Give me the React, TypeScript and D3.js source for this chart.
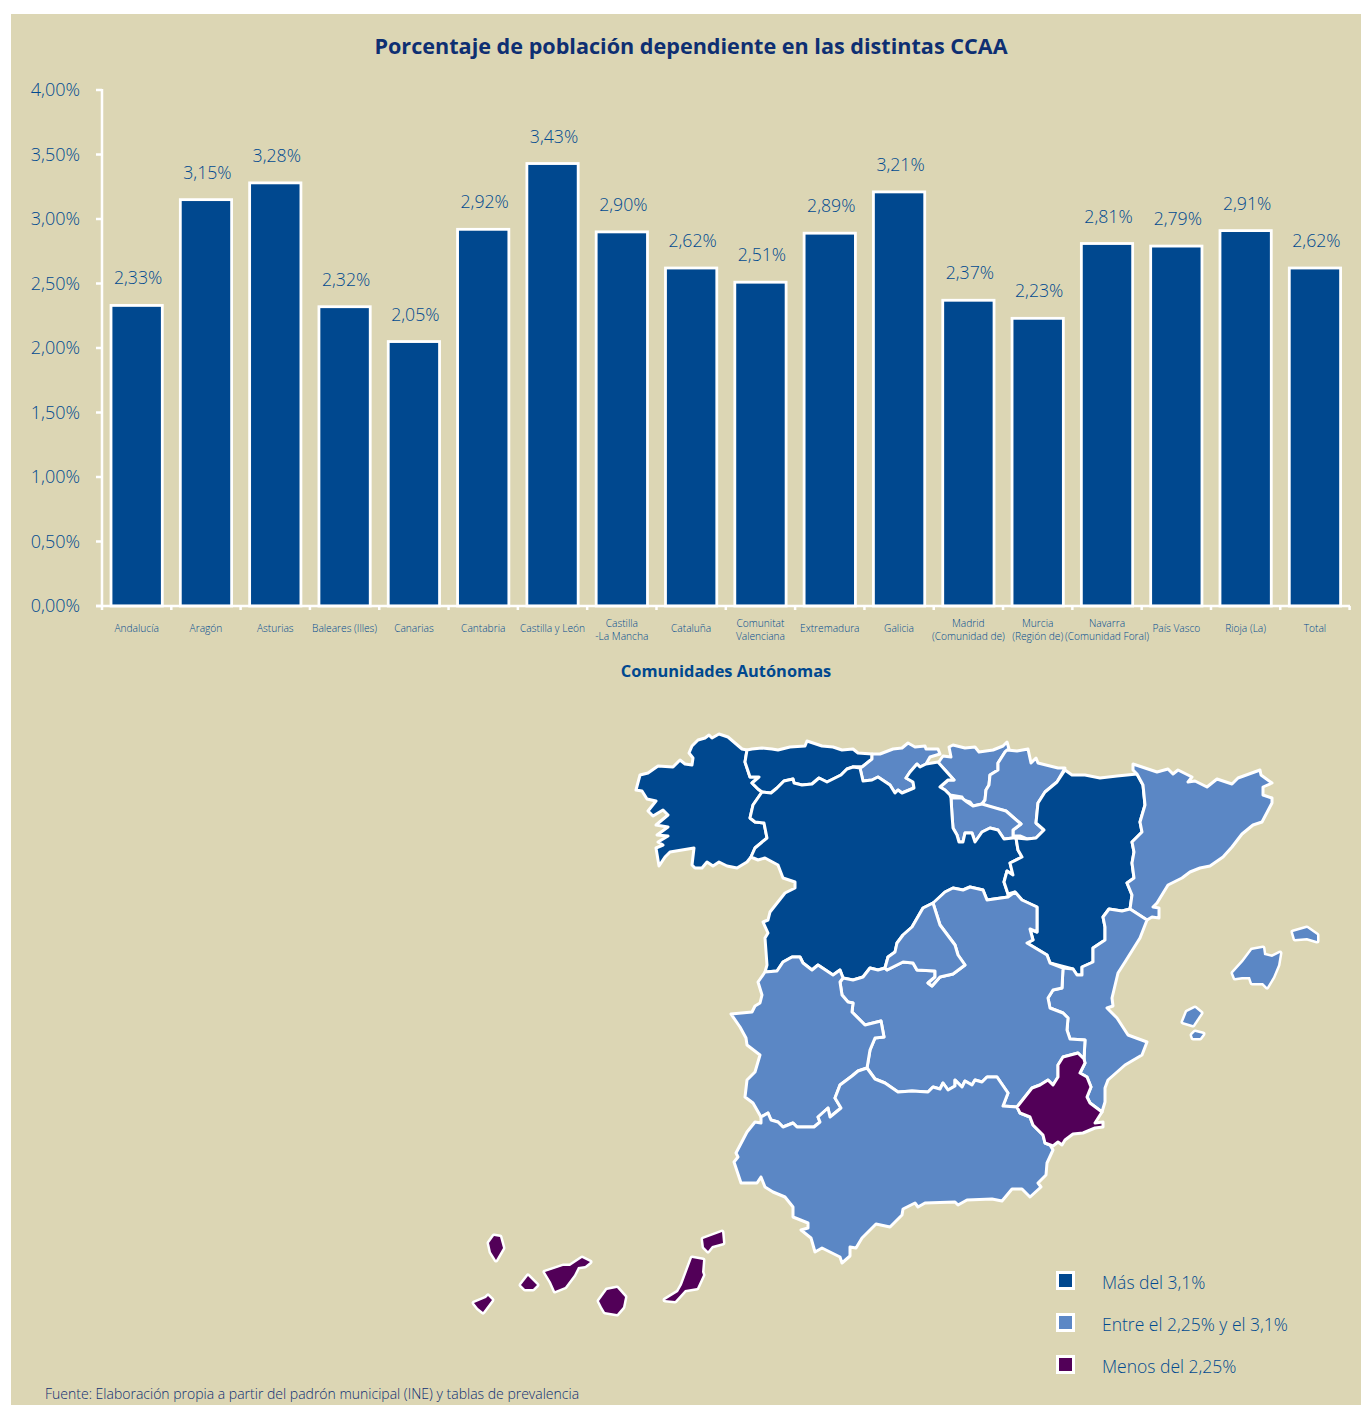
import React from "react";
import * as d3 from "d3";

const categories = ["Andalucía","Aragón","Asturias","Baleares (Illes)","Canarias","Cantabria","Castilla y León","Castilla\n-La Mancha","Cataluña","Comunitat\nValenciana","Extremadura","Galicia","Madrid\n(Comunidad de)","Murcia\n(Región de)","Navarra\n(Comunidad Foral)","País Vasco","Rioja (La)","Total"];
const values = [2.33,3.15,3.28,2.32,2.05,2.92,3.43,2.90,2.62,2.51,2.89,3.21,2.37,2.23,2.81,2.79,2.91,2.62];
const yTicks = [0,0.5,1,1.5,2,2.5,3,3.5,4];
const legendLabels = ["Más del 3,1%","Entre el 2,25% y el 3,1%","Menos del 2,25%"];
const thresholds = [2.25,3.1];
const palette = ["#520058","#5B87C5","#00488F"];
const islandCategories = [3,4];

type P = [number,number];
const galicia: P[] = [[636,790],[640,775],[648,773],[658,766],[673,767],[680,760],[685,764],[692,765],[693,758],[689,753],[692,746],[698,740],[705,738],[709,735],[712,738],[719,734],[728,737],[742,749],[747,750],[745,762],[750,777],[759,777],[752,783],[758,789],[762,792],[753,805],[750,818],[755,822],[764,823],[767,838],[755,848],[751,857],[747,862],[737,868],[727,866],[719,862],[713,866],[707,862],[702,868],[695,868],[692,865],[694,848],[670,852],[665,857],[659,866],[656,848],[663,845],[658,842],[668,836],[657,835],[668,827],[656,825],[668,815],[663,810],[653,816],[648,811],[656,801],[647,799],[642,791]];
const asturias: P[] = [[747,750],[752,749],[762,748],[772,749],[778,750],[790,747],[805,746],[807,741],[822,746],[833,747],[842,750],[853,749],[858,753],[872,754],[872,759],[862,767],[853,767],[847,769],[841,775],[827,782],[819,778],[812,784],[802,785],[794,783],[793,779],[784,781],[777,788],[771,793],[762,792],[758,789],[752,783],[759,777],[750,777],[745,762]];
const cantabria: P[] = [[872,754],[880,754],[893,749],[902,748],[908,743],[915,747],[925,746],[926,749],[938,749],[940,754],[930,757],[926,764],[920,767],[917,764],[910,772],[906,778],[913,782],[914,788],[902,793],[898,790],[895,793],[890,785],[878,777],[872,780],[863,781],[860,768],[853,767],[862,767],[872,759]];
const paisVasco: P[] = [[949,747],[953,745],[965,748],[975,747],[979,752],[993,750],[1003,746],[1007,742],[1009,749],[1005,752],[998,763],[998,770],[990,775],[989,785],[986,790],[985,800],[982,804],[973,806],[970,802],[963,800],[962,797],[950,795],[945,790],[940,787],[948,780],[954,780],[945,770],[938,763],[943,756],[951,757]];
const navarra: P[] = [[1007,750],[1017,751],[1028,749],[1031,763],[1036,758],[1038,763],[1058,768],[1065,768],[1057,782],[1045,792],[1038,803],[1036,823],[1044,830],[1036,838],[1027,839],[1020,836],[1013,836],[1013,830],[1021,824],[1006,811],[985,806],[982,804],[985,800],[986,790],[989,785],[990,775],[998,770],[998,763],[1005,752]];
const rioja: P[] = [[951,798],[962,798],[967,802],[973,806],[982,804],[1006,811],[1021,824],[1013,830],[1013,838],[1004,839],[998,830],[990,828],[982,832],[975,842],[972,833],[965,833],[963,842],[959,842],[957,835],[953,828],[952,815]];
const aragon: P[] = [[1065,770],[1072,775],[1085,775],[1100,778],[1117,776],[1137,774],[1143,785],[1145,805],[1140,822],[1142,832],[1132,842],[1134,852],[1132,863],[1134,878],[1127,883],[1132,895],[1130,909],[1122,911],[1109,909],[1103,917],[1105,927],[1105,940],[1093,948],[1093,962],[1082,967],[1082,975],[1077,975],[1073,969],[1050,963],[1047,955],[1027,943],[1033,940],[1030,929],[1037,932],[1037,907],[1022,900],[1015,892],[1008,894],[1004,882],[1007,871],[1013,875],[1010,863],[1022,857],[1018,850],[1016,838],[1027,839],[1036,838],[1044,830],[1036,823],[1038,803],[1045,792],[1057,782]];
const cataluna: P[] = [[1133,764],[1157,772],[1168,769],[1173,774],[1178,770],[1192,777],[1188,782],[1195,781],[1207,787],[1217,779],[1232,784],[1238,778],[1260,770],[1261,775],[1272,783],[1263,787],[1263,795],[1272,798],[1272,803],[1262,822],[1253,825],[1242,834],[1232,847],[1223,857],[1210,866],[1200,868],[1190,872],[1182,878],[1168,885],[1157,903],[1153,907],[1159,908],[1159,918],[1152,917],[1147,920],[1130,909],[1132,895],[1127,883],[1134,878],[1132,863],[1134,852],[1132,842],[1142,832],[1140,822],[1145,805],[1143,785],[1137,774],[1133,770]];
const valencia: P[] = [[1130,909],[1147,920],[1140,938],[1125,962],[1118,973],[1112,998],[1113,1006],[1107,1008],[1117,1018],[1128,1035],[1147,1042],[1142,1055],[1125,1065],[1108,1080],[1105,1088],[1105,1102],[1102,1112],[1090,1103],[1087,1097],[1091,1087],[1087,1077],[1080,1073],[1085,1063],[1084,1059],[1085,1040],[1070,1039],[1067,1030],[1068,1018],[1063,1013],[1050,1008],[1048,998],[1053,990],[1062,988],[1063,968],[1073,969],[1077,975],[1082,975],[1082,967],[1093,962],[1093,948],[1105,940],[1105,927],[1103,917],[1109,909],[1122,911]];
const castillaLeon: P[] = [[762,792],[771,793],[777,788],[784,781],[793,779],[794,783],[802,785],[812,784],[819,778],[827,782],[841,775],[847,769],[853,767],[860,768],[863,781],[872,780],[878,777],[890,785],[895,793],[898,790],[902,793],[914,788],[913,782],[906,778],[910,772],[917,764],[920,767],[926,764],[938,762],[945,770],[954,780],[948,780],[940,787],[945,790],[950,795],[951,798],[952,815],[953,828],[957,835],[959,842],[963,842],[965,833],[972,833],[975,842],[982,832],[990,828],[998,830],[1004,839],[1013,838],[1016,838],[1018,850],[1022,857],[1010,863],[1013,875],[1007,871],[1004,882],[1008,894],[1008,897],[987,900],[983,890],[970,887],[963,890],[953,888],[945,892],[935,902],[923,908],[912,927],[903,935],[897,943],[895,952],[888,957],[885,968],[878,970],[870,968],[863,977],[853,980],[843,978],[840,970],[833,975],[818,965],[812,970],[803,963],[800,957],[792,957],[783,962],[777,971],[765,972],[767,965],[765,938],[768,933],[763,922],[768,920],[770,912],[785,893],[795,888],[795,882],[783,878],[778,865],[765,858],[758,860],[751,857],[755,848],[767,838],[764,823],[755,822],[750,818],[753,805]];
const madrid: P[] = [[923,908],[933,903],[940,925],[955,945],[958,955],[965,965],[953,974],[940,977],[932,986],[928,983],[935,977],[935,971],[917,970],[913,963],[903,962],[887,970],[885,968],[888,957],[895,952],[897,943],[903,935],[912,927]];
const castillaMancha: P[] = [[933,903],[945,892],[953,888],[963,890],[970,887],[983,890],[987,900],[1008,897],[1015,892],[1022,900],[1037,907],[1037,932],[1030,929],[1033,940],[1027,943],[1047,955],[1050,963],[1063,968],[1062,988],[1053,990],[1048,998],[1050,1008],[1063,1013],[1068,1018],[1067,1030],[1070,1039],[1085,1040],[1084,1059],[1078,1053],[1063,1057],[1058,1065],[1058,1077],[1053,1085],[1048,1080],[1040,1085],[1032,1088],[1017,1107],[1003,1106],[1008,1093],[997,1077],[987,1077],[982,1082],[975,1080],[972,1085],[965,1081],[962,1087],[955,1080],[955,1086],[948,1090],[943,1083],[940,1089],[933,1087],[928,1092],[912,1091],[898,1092],[885,1083],[875,1079],[867,1068],[870,1050],[875,1038],[884,1037],[881,1021],[865,1025],[852,1012],[853,1003],[848,1002],[842,995],[840,982],[843,978],[853,980],[863,977],[870,968],[878,970],[885,968],[887,970],[903,962],[913,963],[917,970],[935,971],[935,977],[928,983],[932,986],[940,977],[953,974],[965,965],[958,955],[955,945],[940,925]];
const extremadura: P[] = [[765,972],[777,971],[783,962],[792,957],[800,957],[803,963],[812,970],[818,965],[833,975],[840,970],[843,978],[840,982],[842,995],[848,1002],[853,1003],[852,1012],[865,1025],[881,1021],[884,1037],[875,1038],[870,1050],[867,1068],[858,1071],[852,1076],[840,1085],[835,1098],[841,1108],[830,1117],[828,1108],[818,1117],[820,1122],[814,1127],[797,1127],[793,1123],[783,1127],[778,1122],[771,1120],[768,1113],[761,1117],[753,1103],[745,1097],[747,1080],[755,1072],[760,1055],[747,1045],[746,1038],[740,1027],[731,1014],[752,1012],[755,1006],[760,1003],[762,995],[758,982]];
const andalucia: P[] = [[867,1068],[875,1079],[885,1083],[898,1092],[912,1091],[928,1092],[933,1087],[940,1089],[943,1083],[948,1090],[955,1086],[955,1080],[962,1087],[965,1081],[972,1085],[975,1080],[982,1082],[987,1077],[997,1077],[1008,1093],[1003,1106],[1017,1107],[1020,1113],[1030,1117],[1033,1125],[1043,1135],[1045,1143],[1050,1145],[1053,1150],[1047,1163],[1046,1175],[1038,1183],[1041,1187],[1030,1197],[1022,1189],[1012,1189],[1002,1201],[992,1199],[967,1200],[958,1205],[955,1202],[925,1203],[918,1207],[915,1203],[903,1209],[902,1215],[890,1227],[876,1224],[862,1238],[856,1248],[850,1247],[850,1256],[842,1263],[840,1257],[822,1248],[815,1252],[811,1238],[801,1230],[808,1228],[808,1223],[793,1217],[793,1207],[785,1197],[773,1192],[765,1187],[761,1177],[757,1183],[741,1183],[734,1162],[738,1157],[736,1153],[747,1132],[755,1122],[761,1123],[761,1117],[768,1113],[771,1120],[778,1122],[783,1127],[793,1123],[797,1127],[814,1127],[820,1122],[818,1117],[828,1108],[830,1117],[841,1108],[835,1098],[840,1085],[852,1076],[858,1071]];
const murcia: P[] = [[1017,1107],[1032,1088],[1040,1085],[1048,1080],[1053,1085],[1058,1077],[1058,1065],[1063,1057],[1078,1053],[1084,1059],[1085,1063],[1080,1073],[1087,1077],[1091,1087],[1087,1097],[1090,1103],[1102,1112],[1095,1123],[1103,1122],[1103,1127],[1095,1128],[1083,1133],[1073,1134],[1065,1140],[1062,1145],[1058,1142],[1053,1146],[1045,1143],[1043,1135],[1033,1125],[1030,1117],[1020,1113]];
const mallorca: P[] = [[1233,973],[1243,962],[1252,950],[1263,948],[1264,955],[1272,957],[1280,953],[1278,965],[1273,977],[1267,987],[1263,983],[1252,983],[1250,977],[1242,977],[1235,978]];
const menorca: P[] = [[1293,932],[1307,928],[1317,935],[1317,941],[1307,938],[1295,939]];
const ibiza: P[] = [[1183,1022],[1187,1012],[1195,1008],[1201,1013],[1193,1025]];
const formentera: P[] = [[1192,1035],[1195,1032],[1203,1034],[1200,1038],[1193,1038]];
const laPalma: P[] = [[489,1243],[494,1236],[500,1237],[503,1248],[496,1260],[491,1252]];
const hierro: P[] = [[474,1303],[486,1298],[488,1296],[492,1300],[483,1312],[478,1308]];
const gomera: P[] = [[521,1285],[528,1276],[537,1285],[533,1289],[525,1289]];
const tenerife: P[] = [[545,1272],[563,1266],[570,1266],[582,1258],[590,1262],[585,1266],[578,1267],[574,1275],[565,1287],[555,1291],[551,1282]];
const granCanaria: P[] = [[599,1301],[607,1290],[617,1288],[625,1297],[623,1307],[617,1314],[605,1312],[602,1307]];
const fuerteventura: P[] = [[665,1300],[678,1292],[682,1285],[692,1258],[703,1260],[702,1272],[703,1275],[697,1288],[685,1290],[675,1301]];
const lanzarote: P[] = [[703,1239],[722,1232],[723,1243],[712,1246],[708,1251],[704,1247]];

// shape lists paired with the index of the category that colours them
const regionShapes: [P[], number][] = [
  [galicia,11],[asturias,2],[cantabria,5],[paisVasco,15],[navarra,14],[rioja,16],[castillaLeon,6],[aragon,1],[cataluna,8],[valencia,9],[castillaMancha,7],[madrid,12],[extremadura,10],[andalucia,0],[murcia,13],
  [mallorca,3],[menorca,3],[ibiza,3],[formentera,3],
  [laPalma,4],[hierro,4],[gomera,4],[tenerife,4],[granCanaria,4],[fuerteventura,4],[lanzarote,4],
];

const WHITE = "#FFFFFF";
const BG = "#DCD6B4";
const TXT = "#004A90";
const FONT = "'Open Sans', 'Noto Sans', sans-serif";

export default function App() {
  const x = d3.scaleBand<string>().domain(categories).range([102, 1349.6]).paddingInner(0.26).paddingOuter(0.13);
  const y = d3.scaleLinear().domain([0, 4]).range([606, 90]);
  const color = d3.scaleThreshold<number, string>().domain(thresholds).range(palette);
  const fmt = (v: number) => v.toFixed(2).replace(".", ",") + "%";
  const mx = d3.scaleIdentity();
  const my = d3.scaleIdentity();
  const line = d3.line<P>().x(d => mx(d[0])).y(d => my(d[1]));
  const step = (1349.6 - 102) / categories.length;
  const axisTicks = d3.range(categories.length + 1).map(i => 102 + i * step);
  const legendY = d3.scalePoint<string>().domain(legendLabels).range([1280, 1364]);
  const legendColors = [...palette].reverse();

  return (
    <svg width={1361} height={1405} style={{ position: "absolute", left: 0, top: 0, display: "block", background: "#fff" }} fontFamily={FONT}>
      <rect x={11} y={14} width={1350} height={1391} fill={BG} />
      <text x={691} y={54} textAnchor="middle" fontSize={21.6} fontWeight={700} fill="#0E2F72">Porcentaje de población dependiente en las distintas CCAA</text>

      {categories.map((c, i) => (
        <g key={c}>
          <rect x={x(c)} y={y(values[i])} width={x.bandwidth()} height={606 - y(values[i])} fill="#00488F" stroke={WHITE} strokeWidth={2.8} />
          <text x={x(c)! + x.bandwidth() / 2 + 1.5} y={y(values[i]) - 21} textAnchor="middle" fontSize={17.7} fontWeight={300} fill={TXT}>{fmt(values[i])}</text>
          {c.split("\n").map((l, j, arr) => (
            <text key={l} x={x(c)! + x.bandwidth() / 2} y={(arr.length > 1 ? 627 : 632) + j * 13} textAnchor="middle" fontSize={10.2} fontWeight={300} fill={TXT}>{l}</text>
          ))}
        </g>
      ))}

      <g stroke={WHITE} strokeWidth={2.5} fill="none">
        <line x1={102} x2={102} y1={89} y2={607} />
        <line x1={96} x2={1350} y1={606} y2={606} />
        {yTicks.map(t => <line key={t} x1={96} x2={102} y1={y(t)} y2={y(t)} />)}
        {axisTicks.map(t => <line key={t} x1={t} x2={t} y1={606} y2={610} />)}
      </g>
      {yTicks.map(t => (
        <text key={t} x={80} y={y(t) + 6} textAnchor="end" fontSize={18} fontWeight={300} fill={TXT}>{fmt(t)}</text>
      ))}

      <text x={726} y={677} textAnchor="middle" fontSize={16.4} fontWeight={700} fill="#00488F">Comunidades Autónomas</text>

      <g stroke={WHITE} strokeLinejoin="round">
        {regionShapes.map(([pts, idx], i) => {
          const island = islandCategories.includes(idx);
          return (
            <path key={i} d={(line(pts) ?? "") + "Z"} fill={color(values[idx])}
              strokeWidth={island ? 5 : 3} style={{ paintOrder: island ? "stroke" : "normal" }} />
          );
        })}
      </g>

      {legendLabels.map((l, i) => (
        <g key={l}>
          <rect x={1057.5} y={legendY(l)! - 7.5} width={16} height={16} fill={legendColors[i]} stroke={WHITE} strokeWidth={3} />
          <text x={1102} y={legendY(l)! + 9} fontSize={17.5} fontWeight={300} fill={TXT}>{l}</text>
        </g>
      ))}

      <text x={45} y={1399} fontSize={14} fontWeight={300} fill="#0E2F72">Fuente: Elaboración propia a partir del padrón municipal (INE) y tablas de prevalencia</text>
    </svg>
  );
}
